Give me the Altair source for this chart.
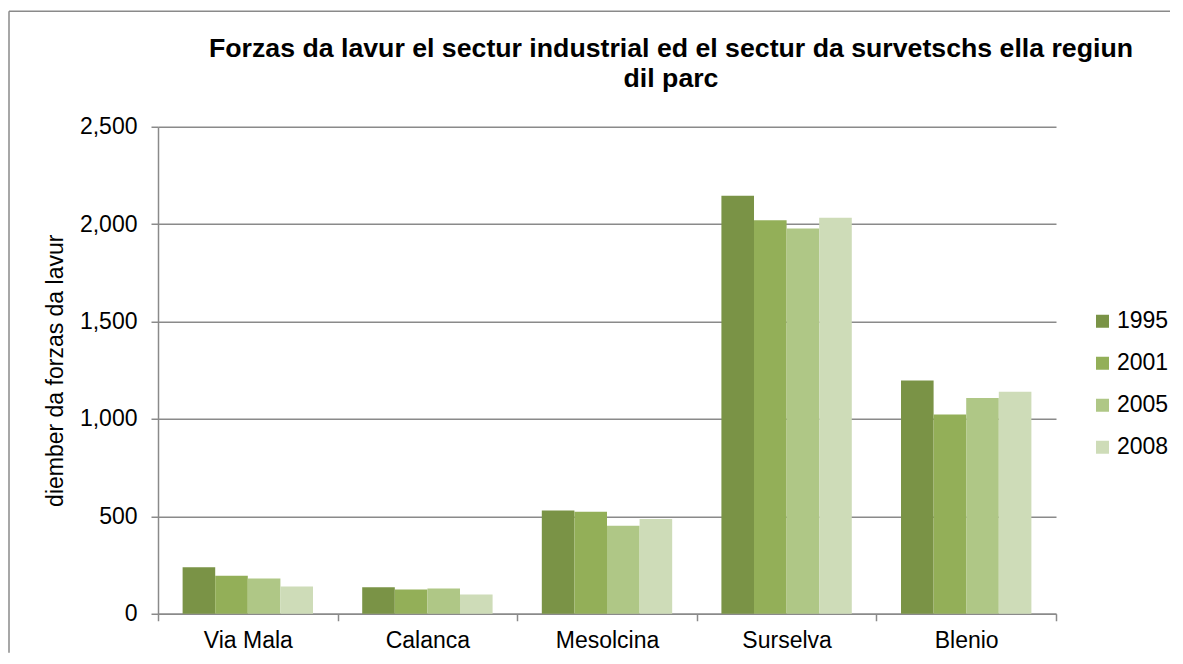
import altair as alt
import pandas as pd

regions = ["Via Mala", "Calanca", "Mesolcina", "Surselva", "Blenio"]
years = ["1995", "2001", "2005", "2008"]
v1995 = [239, 136, 530, 2146, 1197]
v2001 = [195, 125, 524, 2020, 1023]
v2005 = [181, 130, 452, 1978, 1108]
v2008 = [140, 99, 486, 2033, 1139]
colors = ["#7A9346", "#93AF58", "#AFC786", "#CEDCB8"]
title_lines = ["Forzas da lavur el sectur industrial ed el sectur da survetschs ella regiun", "dil parc"]
y_title = "diember da forzas da lavur"
y_ticks = [0, 500, 1000, 1500, 2000, 2500]

rows = []
for yr, vals in zip(years, [v1995, v2001, v2005, v2008]):
    for r, v in zip(regions, vals):
        rows.append({"region": r, "year": yr, "value": v})
df = pd.DataFrame(rows)

GRAY = "#8A8A8A"

bars = alt.Chart(df).mark_bar().encode(
    x=alt.X("region:N", sort=regions,
            scale=alt.Scale(paddingInner=0, paddingOuter=0),
            axis=alt.Axis(title=None, labelAngle=0, labelFontSize=23, labelColor="black",
                          domainColor=GRAY, domainWidth=1.5, tickColor=GRAY, tickWidth=1.5,
                          tickSize=7, tickBand="extent", labelPadding=9, grid=False)),
    xOffset=alt.XOffset("year:N", sort=years,
                        scale=alt.Scale(paddingInner=0, paddingOuter=0.755)),
    y=alt.Y("value:Q", scale=alt.Scale(domain=[0, 2500], nice=False),
            axis=alt.Axis(title=y_title, titleFontSize=23, titleFontWeight="normal",
                          titleColor="black", titlePadding=12, values=y_ticks, format=",d",
                          labelFontSize=23, labelColor="black", labelPadding=14,
                          tickSize=7, tickColor=GRAY, tickWidth=1.5,
                          domainColor=GRAY, domainWidth=1.5,
                          grid=True, gridColor=GRAY, gridWidth=1.5)),
    color=alt.Color("year:N", sort=years,
                    scale=alt.Scale(domain=years, range=colors),
                    legend=alt.Legend(title=None, orient="none", legendX=933, legendY=183,
                                      symbolType="square", symbolSize=169, symbolStrokeWidth=0,
                                      labelFontSize=23, labelColor="black", rowPadding=18,
                                      labelOffset=3, padding=0)),
)

frame_df = pd.DataFrame({"k": [0]})
top_rule = alt.Chart(frame_df).mark_rule(color=GRAY, strokeWidth=1.5).encode(
    x=alt.value(-149), x2=alt.value(1012), y=alt.value(-115.5))
left_rule = alt.Chart(frame_df).mark_rule(color=GRAY, strokeWidth=1.5).encode(
    x=alt.value(-149), y=alt.value(-115.5), y2=alt.value(526))

chart = alt.layer(bars, top_rule, left_rule).properties(
    width=898, height=487,
    padding={"left": 0, "top": 1.75, "right": 0, "bottom": 0},
    title=alt.TitleParams(text=title_lines, fontSize=26.7, fontWeight="bold", color="black",
                          anchor="middle", dx=64, lineHeight=30, offset=20, dy=102),
).configure(font="Liberation Sans").configure_view(stroke=None)

chart.save("out.html", embed_options={"renderer": "svg", "actions": False})
